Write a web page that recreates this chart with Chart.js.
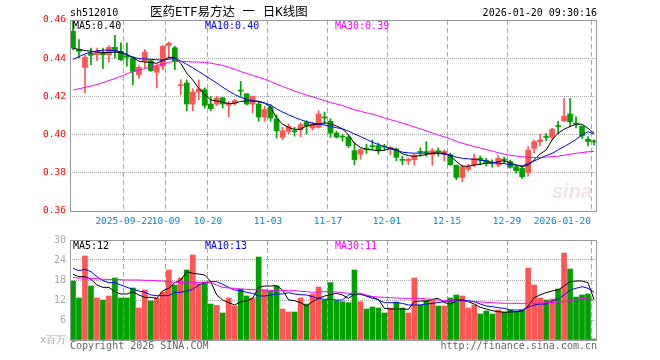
<!DOCTYPE html>
<html><head><meta charset="utf-8">
<script src="https://cdn.jsdelivr.net/npm/chart.js@4.4.1/dist/chart.umd.min.js"></script>
<style>
html,body{margin:0;padding:0;background:#fff;}
#wrap{position:relative;width:660px;height:360px;overflow:hidden;}
canvas{position:absolute;left:0;}
#c1{top:0;} #c2{top:230px;}
</style></head><body>
<div id="wrap"><canvas id="c1" width="660" height="230"></canvas><canvas id="c2" width="660" height="130"></canvas></div>
<script>
const dates = ['2025-09-09','2025-09-10','2025-09-11','2025-09-12','2025-09-15','2025-09-16','2025-09-17','2025-09-18','2025-09-19','2025-09-22',
'2025-09-23','2025-09-24','2025-09-25','2025-09-26','2025-09-29','2025-09-30','2025-10-09','2025-10-10','2025-10-13','2025-10-14',
'2025-10-15','2025-10-16','2025-10-17','2025-10-20','2025-10-21','2025-10-22','2025-10-23','2025-10-24','2025-10-27','2025-10-28',
'2025-10-29','2025-10-30','2025-10-31','2025-11-03','2025-11-04','2025-11-05','2025-11-06','2025-11-07','2025-11-10','2025-11-11',
'2025-11-12','2025-11-13','2025-11-14','2025-11-17','2025-11-18','2025-11-19','2025-11-20','2025-11-21','2025-11-24','2025-11-25',
'2025-11-26','2025-11-27','2025-11-28','2025-12-01','2025-12-02','2025-12-03','2025-12-04','2025-12-05','2025-12-08','2025-12-09',
'2025-12-10','2025-12-11','2025-12-12','2025-12-15','2025-12-16','2025-12-17','2025-12-18','2025-12-19','2025-12-22','2025-12-23',
'2025-12-24','2025-12-25','2025-12-26','2025-12-29','2025-12-30','2025-12-31','2026-01-05','2026-01-06','2026-01-07','2026-01-08',
'2026-01-09','2026-01-12','2026-01-13','2026-01-14','2026-01-15','2026-01-16','2026-01-19','2026-01-20'];

const openP = [.4541,.4445,.4352,.4427,.4418,.4427,.4418,.4457,.4436,.4413,
.4401,.4314,.4384,.4387,.4326,.4358,.4466,.4455,.4256,.4270,
.4160,.4223,.4235,.4160,.4160,.4192,.4153,.4165,.4232,.4213,
.4160,.4160,.4092,.4143,.4083,.3986,.4017,.4019,.4026,.4064,
.4034,.4038,.4092,.4070,.4008,.3989,.3987,.3916,.3898,.3925,
.3940,.3942,.3938,.3921,.3925,.3868,.3863,.3869,.3909,.3909,
.3895,.3912,.3898,.3895,.3839,.3776,.3820,.3841,.3876,.3866,
.3852,.3841,.3868,.3858,.3832,.3824,.3801,.3928,.3963,.3988,
.3986,.4044,.4073,.4108,.4057,.4044,.3976,.3965];
const closeP = [.4453,.4436,.4405,.4415,.4436,.4418,.4457,.4436,.4392,.4405,
.4331,.4352,.4432,.4335,.4358,.4462,.4478,.4385,.4258,.4160,
.4223,.4240,.4153,.4136,.4192,.4160,.4165,.4178,.4228,.4160,
.4200,.4092,.4131,.4087,.4020,.4020,.4044,.4015,.4052,.4044,
.4055,.4108,.4087,.4008,.3987,.3987,.3942,.3869,.3921,.3923,
.3937,.3916,.3935,.3933,.3881,.3865,.3872,.3892,.3907,.3906,
.3916,.3910,.3912,.3842,.3776,.3832,.3832,.3876,.3867,.3852,
.3850,.3876,.3866,.3829,.3811,.3780,.3919,.3963,.3972,.3985,
.4028,.4042,.4097,.4067,.4055,.3993,.3964,.3962];
const highP = [.4595,.4497,.4415,.4453,.4453,.4453,.4466,.4520,.4480,.4480,
.4410,.4361,.4445,.4392,.4366,.4467,.4485,.4462,.4287,.4287,
.4240,.4287,.4244,.4200,.4200,.4196,.4174,.4185,.4279,.4215,
.4202,.4174,.4149,.4157,.4104,.4038,.4057,.4038,.4061,.4073,
.4066,.4125,.4118,.4083,.4017,.4000,.3996,.3956,.3927,.3949,
.3972,.3956,.3949,.3938,.3931,.3887,.3876,.3898,.3930,.3963,
.3927,.3930,.3920,.3903,.3842,.3841,.3846,.3898,.3888,.3875,
.3868,.3889,.3882,.3866,.3836,.3829,.3937,.3972,.4003,.4005,
.4034,.4070,.4188,.4188,.4093,.4044,.3990,.3972];
const lowP = [.4445,.4401,.4218,.4366,.4387,.4345,.4379,.4401,.4387,.4358,
.4261,.4296,.4352,.4331,.4244,.4340,.4400,.4340,.4209,.4125,
.4125,.4183,.4139,.4125,.4153,.4139,.4092,.4155,.4200,.4155,
.4113,.4070,.4070,.4070,.3982,.3973,.4004,.3992,.3989,.4004,
.4025,.4034,.4055,.3985,.3982,.3966,.3932,.3843,.3871,.3902,
.3920,.3898,.3918,.3895,.3863,.3843,.3843,.3840,.3887,.3887,
.3840,.3887,.3863,.3840,.3764,.3753,.3809,.3832,.3841,.3836,
.3829,.3832,.3851,.3824,.3798,.3771,.3783,.3906,.3941,.3968,
.3972,.4005,.4068,.4042,.4035,.3980,.3941,.3946];
const ma5 = [.4452,.4446,.4440,.4437,.4432,.4430,.4430,.4432,.4428,.4418,
.4402,.4385,.4380,.4378,.4373,.4388,.4405,.4402,.4373,.4321,
.4286,.4242,.4210,.4181,.4176,.4170,.4162,.4164,.4174,.4176,
.4176,.4175,.4165,.4143,.4086,.4055,.4037,.4027,.4028,.4046,
.4051,.4055,.4062,.4057,.4045,.4030,.3998,.3955,.3933,.3922,
.3920,.3915,.3918,.3930,.3920,.3900,.3890,.3886,.3890,.3895,
.3904,.3904,.3903,.3888,.3860,.3835,.3834,.3841,.3845,.3850,
.3851,.3858,.3863,.3853,.3841,.3832,.3841,.3867,.3898,.3919,
.3972,.4007,.4028,.4042,.4055,.4054,.4033,.4007];
const ma10 = [.4394,.4408,.4422,.4432,.4438,.4442,.4442,.4440,.4434,.4420,
.4405,.4398,.4396,.4394,.4392,.4390,.4395,.4398,.4385,.4368,
.4350,.4330,.4310,.4290,.4270,.4248,.4228,.4210,.4195,.4185,
.4178,.4172,.4165,.4155,.4135,.4118,.4104,.4090,.4078,.4068,
.4060,.4055,.4050,.4043,.4036,.4030,.4018,.4003,.3990,.3975,
.3960,.3948,.3937,.3926,.3918,.3908,.3904,.3903,.3903,.3902,
.3901,.3901,.3898,.3893,.3882,.3876,.3873,.3870,.3866,.3862,
.3855,.3850,.3848,.3843,.3840,.3836,.3848,.3862,.3876,.3890,
.3902,.3920,.3937,.3955,.3975,.3998,.4015,.4005];
const ma30 = [.4233,.4240,.4247,.4254,.4262,.4272,.4283,.4293,.4305,.4318,
.4330,.4338,.4346,.4354,.4362,.4370,.4378,.4384,.4384,.4382,
.4380,.4380,.4378,.4374,.4368,.4362,.4352,.4342,.4330,.4320,
.4310,.4300,.4290,.4278,.4265,.4252,.4240,.4228,.4217,.4207,
.4198,.4188,.4178,.4168,.4160,.4152,.4140,.4130,.4122,.4114,
.4107,.4098,.4088,.4078,.4070,.4060,.4050,.4040,.4030,.4020,
.4008,.3998,.3988,.3978,.3965,.3955,.3946,.3938,.3930,.3921,
.3914,.3905,.3898,.3892,.3888,.3884,.3881,.3880,.3880,.3882,
.3884,.3887,.3892,.3897,.3902,.3906,.3910,.3912];

const vol = [17.7,12.6,25.2,16.2,12.6,12.0,13.2,18.6,12.6,12.6,
15.6,9.6,15.0,11.7,12.6,14.4,21.0,16.5,18.6,21.0,
25.5,16.8,17.4,10.8,10.4,8.1,12.6,10.2,15.3,13.2,
12.6,24.9,15.0,14.7,16.2,9.3,8.4,8.4,12.6,10.8,
13.8,15.9,12.0,17.2,11.8,11.5,11.2,21.0,11.5,9.3,
9.9,9.6,8.1,9.6,11.4,9.6,8.1,18.6,10.5,11.7,
12.0,10.2,10.2,12.6,13.5,13.2,9.6,10.5,7.8,8.7,
7.8,9.0,8.4,9.0,8.4,9.0,21.6,16.5,12.6,12.0,
12.3,15.3,26.1,21.3,12.9,13.5,13.8,0.3];
const vma5 = [19.7,19.0,19.0,18.2,16.5,15.8,15.8,14.5,13.8,13.8,
14.5,13.5,12.8,12.8,12.5,14.8,15.5,17.2,18.0,20.5,
20.0,19.8,19.5,17.5,13.5,12.0,11.2,10.5,11.5,11.7,
12.5,15.8,16.2,16.2,16.3,15.0,12.0,11.8,11.2,10.2,
11.5,12.5,13.2,13.6,14.0,13.5,12.5,13.8,13.8,13.2,
12.5,12.2,9.5,9.3,9.3,9.3,9.2,11.5,11.7,11.7,
12.2,12.5,11.2,10.8,11.7,12.0,11.5,10.8,9.8,9.3,
8.8,8.5,8.3,8.4,8.5,8.7,10.2,12.7,13.5,14.2,
14.7,15.0,16.2,17.5,17.7,17.7,17.2,12.2];
const vma10 = [21.5,20.8,21.2,20.5,19.0,17.8,17.2,17.2,16.5,15.8,
15.2,14.7,14.3,13.5,13.3,13.3,13.3,14.3,14.3,14.7,
15.2,16.5,17.2,17.5,17.5,16.7,15.8,15.0,14.8,14.3,
14.0,13.2,13.2,13.5,13.8,13.8,14.2,13.8,13.6,13.5,
13.0,12.5,12.2,12.2,12.0,12.0,13.5,14.0,13.8,13.2,
13.0,12.0,11.2,11.2,11.2,11.0,10.5,10.5,10.5,10.8,
11.0,11.2,11.5,11.8,12.0,12.0,11.8,11.5,10.8,10.2,
10.0,9.7,9.5,9.0,9.0,9.0,9.8,10.5,10.8,10.8,
11.7,12.3,13.5,15.0,15.5,16.0,15.5,14.3];
const vma30 = [18.7,18.6,18.6,18.5,18.4,18.2,18.2,18.1,18.1,18.0,
18.0,18.0,17.9,17.9,17.8,17.7,17.5,17.3,17.3,17.3,
17.3,17.2,17.2,17.2,16.5,15.8,15.6,15.5,15.3,15.2,
15.1,15.0,15.0,14.9,14.8,14.8,14.8,14.8,14.6,14.5,
14.3,14.4,14.5,14.5,14.4,14.2,14.0,14.0,14.0,13.5,
13.0,12.9,12.8,12.7,12.6,12.5,12.5,12.5,12.5,12.3,
12.2,12.0,11.9,11.8,11.7,11.6,11.6,11.5,11.4,11.3,
11.2,11.1,11.0,11.0,11.0,11.0,11.0,11.0,11.1,11.2,
11.3,11.4,11.5,11.8,12.1,12.5,12.3,12.0];

const tickDates = ['2025-09-22','2025-10-09','2025-10-20','2025-11-03','2025-11-17','2025-12-01','2025-12-15','2025-12-29','2026-01-20'];
const tickTexts = ['2025-09-22','10-09','10-20','11-03','11-17','12-01','12-15','12-29','2026-01-20'];
const priceTicks = [0.36, 0.46, 0.02];
const volTicks = [0, 30, 6];
const priceLegend = ['MA5:0.40', 'MA10:0.40', 'MA30:0.39'];
const volLegend = ['MA5:12', 'MA10:13', 'MA30:11'];

const UP = '#ff5555', DOWN = '#00a000';
const MONO = '"DejaVu Sans Mono", "Liberation Mono", monospace';
Chart.defaults.font.family = MONO;
Chart.defaults.animation = false;

const tickIdx = new Set(tickDates.map(d => dates.indexOf(d)));
const candleColor = dates.map((d,i) => closeP[i] >= openP[i] ? UP : DOWN);

function xScaleOpts() {
  return {
    offset: true,
    ticks: { display: false, autoSkip: false },
    grid: { offset: true, drawTicks: false, lineWidth: 1,
      color: c => (c.type === 'tick' && tickIdx.has(c.index)) ? '#aaaaaa' : 'rgba(0,0,0,0)' },
    border: { display: false, dash: [5, 3] }
  };
}
function yGridColor(c) {
  return (c.type === 'tick' && c.index > 0 && c.index < 5) ? '#aaaaaa' : 'rgba(0,0,0,0)';
}
function borderBox(chart) {
  const a = chart.chartArea, ctx = chart.ctx;
  ctx.save(); ctx.strokeStyle = '#999999'; ctx.lineWidth = 1;
  ctx.strokeRect(Math.round(a.left) + 0.5, Math.round(a.top) + 0.5, Math.round(a.right - a.left) - 1, Math.round(a.bottom - a.top));
  ctx.restore();
}
function txt(ctx, s, x, y, color, font, align) {
  ctx.save(); ctx.fillStyle = color; ctx.font = font; ctx.textAlign = align || 'left'; ctx.textBaseline = 'middle';
  ctx.fillText(s, x, y); ctx.restore();
}

const pricePlugin = {
  id: 'pricePlugin',
  beforeDatasetsDraw(chart) {
    const ctx = chart.ctx;
    ctx.save();
    ctx.font = 'italic bold 20px "Liberation Sans", sans-serif';
    ctx.fillStyle = '#f1e4e4'; ctx.textAlign = 'right'; ctx.textBaseline = 'alphabetic';
    ctx.fillText('sina', 592, 198);
    ctx.restore();
  },
  afterDraw(chart) {
    const ctx = chart.ctx, x = chart.scales.x;
    borderBox(chart);
    const f10 = '10px ' + MONO;
    txt(ctx, 'sh512010', 70, 13, '#000', f10);
    txt(ctx, '医药ETF易方达 一 日K线图', 150, 13, '#000', '12.5px "DejaVu Sans Mono", "Noto Sans CJK SC"');
    txt(ctx, '2026-01-20 09:30:16', 597, 13, '#000', f10, 'right');
    txt(ctx, priceLegend[0], 73, 26, '#000', f10);
    txt(ctx, priceLegend[1], 205, 26, '#0000ff', f10);
    txt(ctx, priceLegend[2], 335, 26, '#ff00ff', f10);
    const half = (x.getPixelForValue(1) - x.getPixelForValue(0)) / 2;
    tickDates.forEach((d, j) => {
      const i = dates.indexOf(d);
      const gx = Math.round(x.getPixelForValue(i) - half);
      const last = j === tickDates.length - 1;
      txt(ctx, tickTexts[j], gx, 222, '#0a84d0', '9.5px ' + MONO, last ? 'right' : 'center');
    });
  }
};

const volPlugin = {
  id: 'volPlugin',
  afterDraw(chart) {
    const ctx = chart.ctx;
    borderBox(chart);
    const f10 = '10px ' + MONO;
    txt(ctx, volLegend[0], 73, 16, '#000', f10);
    txt(ctx, volLegend[1], 205, 16, '#0000ff', f10);
    txt(ctx, volLegend[2], 335, 16, '#ff00ff', f10);
    txt(ctx, 'Copyright 2026 SINA.COM', 70, 116, '#666', f10);
    txt(ctx, 'http://finance.sina.com.cn', 597, 116, '#666', f10, 'right');
  }
};

function lineDs(data, color) {
  return { type: 'line', data, borderColor: color, borderWidth: 1, pointRadius: 0, tension: 0, order: 0, fill: false };
}

new Chart(document.getElementById('c1'), {
  type: 'bar',
  data: {
    labels: dates,
    datasets: [
      { data: dates.map((d,i) => [lowP[i], highP[i]]), backgroundColor: candleColor, barThickness: 1, grouped: false, order: 2, minBarLength: 1 },
      { data: dates.map((d,i) => [openP[i], closeP[i]]), backgroundColor: candleColor, barThickness: 5, grouped: false, order: 1, minBarLength: 1 },
      lineDs(ma30, '#ff00ff'),
      lineDs(ma10, '#0000ff'),
      lineDs(ma5, '#000000')
    ]
  },
  options: {
    responsive: false, devicePixelRatio: 1, animation: false,
    layout: { padding: { left: 0, right: 63, top: 20, bottom: 19 } },
    plugins: { legend: { display: false }, tooltip: { enabled: false } },
    scales: {
      x: xScaleOpts(),
      y: {
        min: priceTicks[0], max: priceTicks[1],
        ticks: { stepSize: priceTicks[2], color: '#ff0000', padding: 4, font: { size: 9.5, family: MONO },
          callback: v => Number(v).toFixed(2) },
        grid: { drawTicks: false, color: yGridColor },
        border: { display: false, dash: [1, 1] },
        afterFit: s => { s.width = 70; }
      }
    }
  },
  plugins: [pricePlugin]
});

new Chart(document.getElementById('c2'), {
  type: 'bar',
  data: {
    labels: dates,
    datasets: [
      { data: vol, backgroundColor: candleColor, barThickness: 5, grouped: false, order: 1 },
      lineDs(vma30, '#ff00ff'),
      lineDs(vma10, '#0000ff'),
      lineDs(vma5, '#000000')
    ]
  },
  options: {
    responsive: false, devicePixelRatio: 1, animation: false,
    layout: { padding: { left: 0, right: 63, top: 10, bottom: 20 } },
    plugins: { legend: { display: false }, tooltip: { enabled: false } },
    scales: {
      x: xScaleOpts(),
      y: {
        min: volTicks[0], max: volTicks[1],
        ticks: { stepSize: volTicks[2], color: '#aaaaaa', padding: 4, font: { size: 10, family: MONO },
          callback: v => v === 0 ? 'x百万' : v },
        grid: { drawTicks: false, color: yGridColor },
        border: { display: false, dash: [1, 1] },
        afterFit: s => { s.width = 70; }
      }
    }
  },
  plugins: [volPlugin]
});
</script>
</body></html>
